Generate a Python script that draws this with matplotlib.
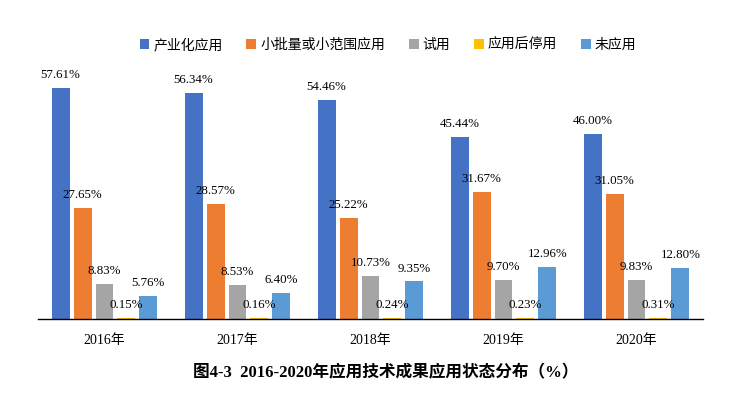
import numpy as np
import matplotlib
matplotlib.use('Agg')
from matplotlib import pyplot as plt

plt.rcParams['font.family'] = ['Liberation Serif', 'Noto Sans CJK SC']

# Dados do gráfico
anos = ['2016年', '2017年', '2018年', '2019年', '2020年']
series = ['产业化应用', '小批量或小范围应用', '试用', '应用后停用', '未应用']
industrial = [57.61, 56.34, 54.46, 45.44, 46.00]
pequeno = [27.65, 28.57, 25.22, 31.67, 31.05]
teste = [8.83, 8.53, 10.73, 9.70, 9.83]
parado = [0.15, 0.16, 0.24, 0.23, 0.31]
nao_aplicado = [5.76, 6.40, 9.35, 12.96, 12.80]
valores = [industrial, pequeno, teste, parado, nao_aplicado]
cores = ['#4472C4', '#ED7D31', '#A5A5A5', '#FFC000', '#5B9BD5']

fig = plt.figure(figsize=(7.39, 3.96), dpi=100)
ax = fig.add_axes([38 / 739, 77 / 396, 665 / 739, 281 / 396])

x = np.arange(len(anos))
largura = 0.135
passo = 0.165

handles = []
for i, (vals, cor) in enumerate(zip(valores, cores)):
    pos = x + (i - 2) * passo
    barras = ax.bar(pos, vals, largura, color=cor, linewidth=0)
    handles.append(barras)
    for p, v in zip(pos, vals):
        ax.annotate(f'{v:.2f}%', (p, v), xytext=(0, 5), textcoords='offset points',
                    ha='center', va='bottom', fontsize=9.3)

ax.set_xlim(-0.5, len(anos) - 0.5)
ax.set_ylim(0, 70)
ax.set_xticks(x)
ax.set_xticklabels(anos, fontsize=10)
ax.tick_params(axis='x', length=0, pad=11)
ax.set_yticks([])
for s in ['top', 'right', 'left']:
    ax.spines[s].set_visible(False)
ax.spines['bottom'].set_linewidth(1.0)

fig.legend(handles, series, loc='center', bbox_to_anchor=(388 / 739, 1 - 45 / 396),
           ncol=5, frameon=False, handlelength=0.7, handleheight=0.7,
           handletextpad=0.3, columnspacing=1.7,
           prop={'family': 'Noto Sans CJK SC', 'size': 10})

fig.text(386 / 739, 1 - 373 / 396, '图4-3  2016-2020年应用技术成果应用状态分布（%）',
         ha='center', va='center', fontsize=12, fontweight='bold')

plt.savefig('out.png', dpi=100)
